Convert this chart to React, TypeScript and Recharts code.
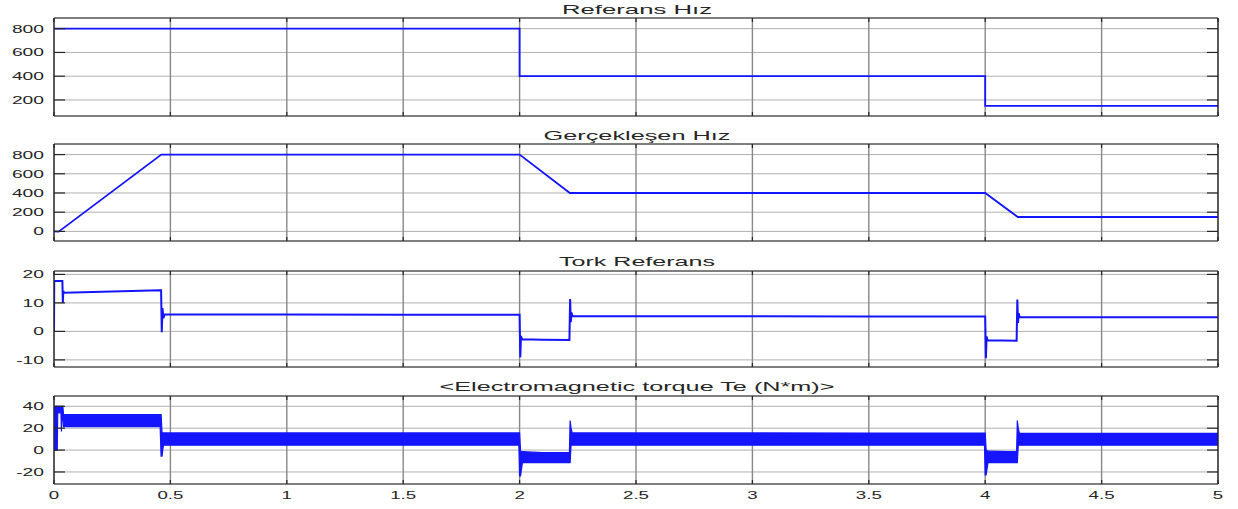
import React from "react";
import { ComposedChart, Line, Area, XAxis, YAxis, CartesianGrid } from "recharts";

// x axis (time, s)
const xTicks = [0, 0.5, 1, 1.5, 2, 2.5, 3, 3.5, 4, 4.5, 5];
const xTickLabels = ["0", "0.5", "1", "1.5", "2", "2.5", "3", "3.5", "4", "4.5", "5"];

const panelTitles = ["Referans Hız", "Gerçekleşen Hız", "Tork Referans", "<Electromagnetic torque Te (N*m)>"];

// Referans Hız
const refSpeedTime = [0, 2, 2, 4, 4, 5];
const refSpeedValue = [800, 800, 400, 400, 150, 150];
const refSpeedTicks = [200, 400, 600, 800];

// Gerçekleşen Hız
const actSpeedTime = [0, 0.02, 0.461, 2.0, 2.216, 4.0, 4.14, 5];
const actSpeedValue = [0, -3, 800, 800, 400, 400, 150, 150];
const actSpeedTicks = [0, 200, 400, 600, 800];

// Tork Referans
const torqueRefTime = [
  0, 0.001, 0.036, 0.038, 0.04, 0.043, 0.25, 0.456, 0.46, 0.463, 0.466, 0.47, 0.475, 1.0, 1.5,
  2.0, 2.003, 2.006, 2.01, 2.1, 2.214, 2.217, 2.22, 2.223, 2.227, 3.0, 3.5,
  4.0, 4.003, 4.006, 4.01, 4.135, 4.138, 4.141, 4.144, 4.148, 4.5, 5,
];
const torqueRefValue = [
  0, 17.7, 17.7, 10, 14.2, 13.6, 14.0, 14.4, 14.4, -0.3, 8.2, 4.6, 5.9, 5.9, 5.8,
  5.8, -9.1, -1.6, -2.8, -2.9, -3.0, 11.4, 3.2, 6.6, 5.3, 5.3, 5.2,
  5.2, -9.4, -1.8, -3.1, -3.3, 11.2, 3.0, 6.4, 5.0, 5.0, 5.0,
];
const torqueRefTicks = [-10, 0, 10, 20];

// Electromagnetic torque: ripple drawn as min/max envelope
const emTime = [
  0, 0.002, 0.014, 0.016, 0.03, 0.032, 0.034, 0.038, 0.041, 0.25, 0.456, 0.46, 0.464, 0.47, 1.0, 1.5, 1.997,
  2.0, 2.004, 2.012, 2.1, 2.214, 2.217, 2.221, 2.226, 3.0, 3.5, 3.997,
  4.0, 4.004, 4.012, 4.1, 4.135, 4.138, 4.142, 4.147, 4.5, 5,
];
const emLow = [
  0, 0, 0, 34, 34, 17, 30, 30, 21.5, 21.5, 21.5, -5.5, -5.5, 4.5, 4.5, 4.5, 4.5,
  -23.6, -23.6, -11.5, -11.5, -11.5, -11.5, 4.5, 4.5, 4.5, 4.5, 4.5,
  -22.7, -22.7, -11.5, -11.5, -11.5, -11.5, 4.5, 4.5, 4.5, 4.5,
];
const emHigh = [
  0, 40, 40, 40, 40, 40, 40, 40, 32.5, 32.5, 32.5, 32.5, 16, 15.7, 15.7, 15.7, 15.7,
  15.7, -1, -1.5, -2.4, -2.4, 27, 20, 15.7, 15.7, 15.5, 15.5,
  15.5, 0, -1, -1.5, -1.5, 27, 20, 15.2, 15.2, 15.2,
];
const emTicks = [-20, 0, 20, 40];

const refSpeedData = refSpeedTime.map((t, i) => ({ t, v: refSpeedValue[i] }));
const actSpeedData = actSpeedTime.map((t, i) => ({ t, v: actSpeedValue[i] }));
const torqueRefData = torqueRefTime.map((t, i) => ({ t, v: torqueRefValue[i] }));
const emData = emTime.map((t, i) => ({ t, band: [emLow[i], emHigh[i]] }));

const BLUE = "#1414ff";
const AXIS = "#262626";
const FONT = "'Liberation Sans', Arial, sans-serif";

function YTick(props: any) {
  const { x, y, payload } = props;
  return (
    <g transform={`translate(${x - 21},${y})`}>
      <text transform="scale(1.75,1)" textAnchor="end" dy="0.36em" fontSize={11} fill={AXIS} fontFamily={FONT}>
        {payload.value}
      </text>
    </g>
  );
}

function XTick(props: any) {
  const { x, y, payload } = props;
  const label = xTickLabels[xTicks.indexOf(payload.value)] ?? String(payload.value);
  return (
    <g transform={`translate(${x},${y + 19})`}>
      <text transform="scale(1.7,1)" textAnchor="middle" fontSize={11} fill={AXIS} fontFamily={FONT}>
        {label}
      </text>
    </g>
  );
}

const NoTick = () => <g />;

type PanelProps = {
  top: number;
  plotHeight: number;
  data: any[];
  yDomain: [number, number];
  yTicks: number[];
  showXLabels?: boolean;
  band?: boolean;
  strokeWidth?: number;
};

function Panel({ top, plotHeight, data, yDomain, yTicks, showXLabels, band, strokeWidth = 1.8 }: PanelProps) {
  const bottomAxis = showXLabels ? 24 : 1;
  const axisProps = { axisLine: { stroke: AXIS, strokeWidth: 1.2 }, tickLine: { stroke: AXIS, strokeWidth: 1.2 } };
  return (
    <div style={{ position: "absolute", left: 0, top: top - 1 }}>
      <ComposedChart
        width={1238}
        height={plotHeight + 1 + bottomAxis}
        data={data}
        margin={{ top: 0, right: 19, bottom: 0, left: 0 }}
      >
        <CartesianGrid xAxisId="b" yAxisId="l" vertical={false} stroke="#b0b0b0" />
        <CartesianGrid xAxisId="b" yAxisId="l" horizontal={false} stroke="#888888" strokeWidth={1.4} />
        <XAxis
          xAxisId="b"
          dataKey="t"
          type="number"
          domain={[0, 5]}
          ticks={xTicks}
          interval={0}
          height={bottomAxis}
          tickSize={-4}
          tickMargin={0}
          tick={showXLabels ? <XTick /> : <NoTick />}
          allowDataOverflow
          {...axisProps}
        />
        <XAxis
          xAxisId="t"
          orientation="top"
          dataKey="t"
          type="number"
          domain={[0, 5]}
          ticks={xTicks}
          interval={0}
          height={1}
          tickSize={-4}
          tickMargin={0}
          tick={<NoTick />}
          allowDataOverflow
          {...axisProps}
        />
        <YAxis
          yAxisId="l"
          type="number"
          domain={yDomain}
          ticks={yTicks}
          interval={0}
          width={54}
          tickSize={-11}
          tickMargin={0}
          tick={<YTick />}
          allowDataOverflow
          {...axisProps}
        />
        <YAxis
          yAxisId="r"
          orientation="right"
          type="number"
          domain={yDomain}
          ticks={yTicks}
          interval={0}
          width={1}
          tickSize={-11}
          tickMargin={0}
          tick={<NoTick />}
          allowDataOverflow
          {...axisProps}
        />
        {band ? (
          <Area
            xAxisId="b"
            yAxisId="l"
            type="linear"
            dataKey="band"
            stroke={BLUE}
            strokeWidth={1.2}
            fill={BLUE}
            fillOpacity={1}
            dot={false}
            activeDot={false}
            isAnimationActive={false}
          />
        ) : (
          <Line
            xAxisId="b"
            yAxisId="l"
            type="linear"
            dataKey="v"
            stroke={BLUE}
            strokeWidth={strokeWidth}
            dot={false}
            activeDot={false}
            isAnimationActive={false}
          />
        )}
      </ComposedChart>
    </div>
  );
}

const titleBaselines = [14, 140, 266, 391];
const titleWidths = [150, 187, 156, 395];

export default function App() {
  return (
    <div style={{ position: "relative", width: 1238, height: 509, background: "#fff", fontFamily: FONT }}>
      <style>{`body{margin:0;}`}</style>
      <Panel top={18} plotHeight={98} data={refSpeedData} yDomain={[65, 890]} yTicks={refSpeedTicks} />
      <Panel top={144} plotHeight={97} data={actSpeedData} yDomain={[-100, 910]} yTicks={actSpeedTicks} />
      <Panel top={271} plotHeight={96} data={torqueRefData} yDomain={[-12.5, 21.2]} yTicks={torqueRefTicks} strokeWidth={2} />
      <Panel top={396} plotHeight={88} data={emData} yDomain={[-31, 49.4]} yTicks={emTicks} band showXLabels />
      <svg width={1238} height={509} style={{ position: "absolute", left: 0, top: 0, pointerEvents: "none" }}>
        {panelTitles.map((title, i) => (
          <text
            key={title}
            x={637}
            y={titleBaselines[i]}
            textAnchor="middle"
            textLength={titleWidths[i]}
            lengthAdjust="spacingAndGlyphs"
            fontSize={12.5}
            fill={AXIS}
            fontFamily={FONT}
          >
            {title}
          </text>
        ))}
      </svg>
    </div>
  );
}
